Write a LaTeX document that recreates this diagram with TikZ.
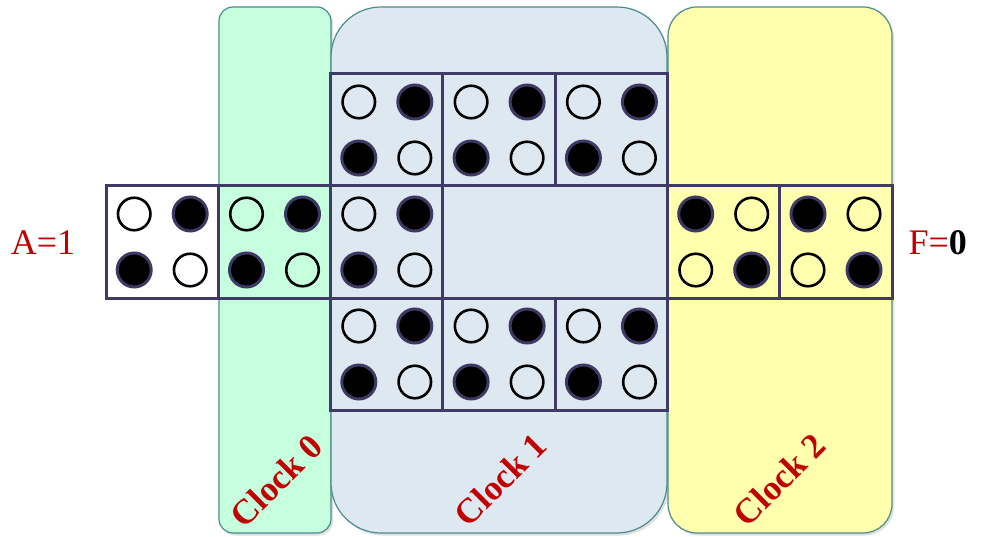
\documentclass[tikz,border=0pt]{standalone}
\usepackage{fontspec}
\setmainfont{Liberation Serif}
\usetikzlibrary{shadows}
\definecolor{mintfill}{RGB}{198,255,222}
\definecolor{bluefill}{RGB}{222,232,240}
\definecolor{lemonfill}{RGB}{255,255,174}
\definecolor{paneledge}{RGB}{75,140,140}
\definecolor{celledge}{RGB}{63,58,102}
\definecolor{balledge}{RGB}{62,57,100}
\definecolor{lblred}{RGB}{192,0,0}
\tikzset{
  panel/.style={rectangle, draw=paneledge, line width=1.2pt,
    drop shadow={shadow xshift=2pt, shadow yshift=-2.5pt, opacity=0.25}},
  cellbox/.style={rectangle, draw=celledge, line width=3pt,
    minimum width=112.3pt, minimum height=112pt, inner sep=0pt},
  hole/.style={circle, draw=black, line width=2.6pt, minimum size=32.5pt, inner sep=0pt},
  ball/.style={circle, fill=black, draw=balledge, line width=3pt, minimum size=34pt, inner sep=0pt},
  clocklbl/.style={text=lblred, font=\fontsize{35}{38}\selectfont\bfseries, rotate=45, inner sep=0pt},
  sidelbl/.style={text=lblred, font=\fontsize{36}{40}\selectfont}
}
\begin{document}
\begin{tikzpicture}[x=1pt, y=-1pt]
  \useasboundingbox (0,0) rectangle (981,537);
  % clock panels
  \node[panel, fill=mintfill, minimum width=112pt, minimum height=526pt, rounded corners=14pt] (clk0) at (275,270) {};
  \node[panel, fill=bluefill, minimum width=336pt, minimum height=526pt, rounded corners=50pt] (clk1) at (499,270) {};
  \node[panel, fill=lemonfill, minimum width=224pt, minimum height=526pt, rounded corners=29pt] (clk2) at (780,270) {};
  % cells with their four dots
  \foreach \col/\row/\p/\q in {0/1/hole/ball, 1/1/hole/ball, 2/1/hole/ball,
      2/0/hole/ball, 3/0/hole/ball, 4/0/hole/ball,
      2/2/hole/ball, 3/2/hole/ball, 4/2/hole/ball,
      5/1/ball/hole, 6/1/ball/hole} {
    \node[cellbox] (c\col\row) at ({162.2+112.3*\col},{130+112*\row}) {};
    \node[\p] (c\col\row tl) at ([shift={(-28,-28)}]c\col\row.center) {};
    \node[\q] (c\col\row tr) at ([shift={(28,-28)}]c\col\row.center) {};
    \node[\q] (c\col\row bl) at ([shift={(-28,28)}]c\col\row.center) {};
    \node[\p] (c\col\row br) at ([shift={(28,28)}]c\col\row.center) {};
  }
  % labels
  \node[sidelbl] (albl) at (43,243) {A=1};
  \node[sidelbl, anchor=west] (flbl) at (905,243) {F=\textcolor{black}{\bfseries 0}};
  \node[clocklbl] (lbl0) at (276,481) {Clock 0};
  \node[clocklbl] (lbl1) at (500,480) {Clock 1};
  \node[clocklbl] (lbl2) at (779,480) {Clock 2};
\end{tikzpicture}
\end{document}
